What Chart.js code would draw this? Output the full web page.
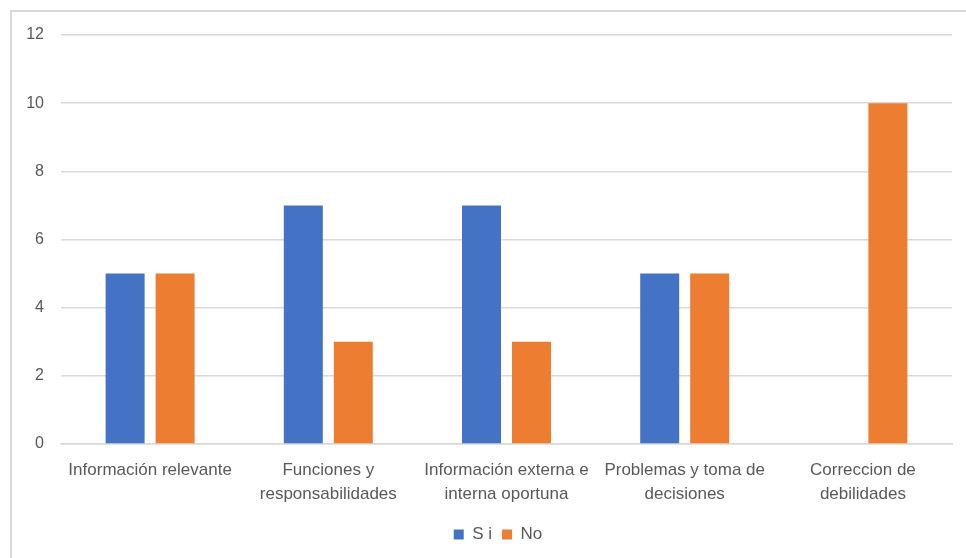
<!DOCTYPE html>
<html>
<head>
<meta charset="utf-8">
<script src="https://cdn.jsdelivr.net/npm/chart.js@4/dist/chart.umd.min.js"></script>
<style>
  html, body { margin: 0; padding: 0; background: #fff; }
  body { width: 966px; height: 558px; position: relative; overflow: hidden; }
  #frame { position: absolute; left: 10px; top: 10px; width: 1000px; height: 600px; border: 2px solid #d9d9d9; box-sizing: border-box; }
  #wrap { position: absolute; left: 0; top: 0; width: 966px; height: 558px; }
</style>
</head>
<body>
<div id="frame"></div>
<div id="wrap"><canvas id="my-chart"></canvas></div>
<script>
const categories = [
  ['Información relevante'],
  ['Funciones y', 'responsabilidades'],
  ['Información externa e', 'interna oportuna'],
  ['Problemas y toma de', 'decisiones'],
  ['Correccion de', 'debilidades']
];
const siValues = [5, 7, 7, 5, 0];
const noValues = [5, 3, 3, 5, 10];
const seriesNames = ['S i', 'No'];

const textColor = '#595959';
const fontFamily = '"Liberation Sans", Arial, sans-serif';

// nudge legend toward the plot centre like the original
const legendShift = {
  id: 'legendShift',
  afterUpdate(chart) {
    chart.legend.left += 22;
    chart.legend.right += 22;
  }
};

const ctx = document.getElementById('my-chart').getContext('2d');
const chart = new Chart(ctx, {
  type: 'bar',
  data: {
    labels: categories,
    datasets: [
      { label: seriesNames[0], data: siValues, backgroundColor: '#4472c4' },
      { label: seriesNames[1], data: noValues, backgroundColor: '#ed7d31' }
    ]
  },
  plugins: [legendShift],
  options: {
    responsive: true,
    maintainAspectRatio: false,
    animation: false,
    categoryPercentage: 0.561,
    barPercentage: 0.78,
    layout: { padding: { left: 0, right: 14, top: 35, bottom: 5 } },
    plugins: {
      tooltip: { enabled: false },
      legend: {
        position: 'bottom',
        labels: {
          boxWidth: 10, boxHeight: 10, padding: 10,
          color: textColor,
          font: { family: fontFamily, size: 17 }
        }
      }
    },
    scales: {
      x: {
        grid: { display: false, drawTicks: false },
        border: { color: '#d9d9d9', width: 1.5 },
        ticks: {
          color: textColor, padding: 14, maxRotation: 0, autoSkip: false,
          font: { family: fontFamily, size: 17, lineHeight: 1.42 }
        },
        afterFit: scale => { scale.height = 72; }
      },
      y: {
        min: 0, max: 12,
        grid: { color: '#d9d9d9', lineWidth: 1.5, drawTicks: false },
        border: { display: false },
        ticks: {
          stepSize: 2, color: textColor, padding: 17,
          font: { family: fontFamily, size: 16 }
        },
        afterFit: scale => { scale.width = 61; }
      }
    }
  }
});
</script>
</body>
</html>
